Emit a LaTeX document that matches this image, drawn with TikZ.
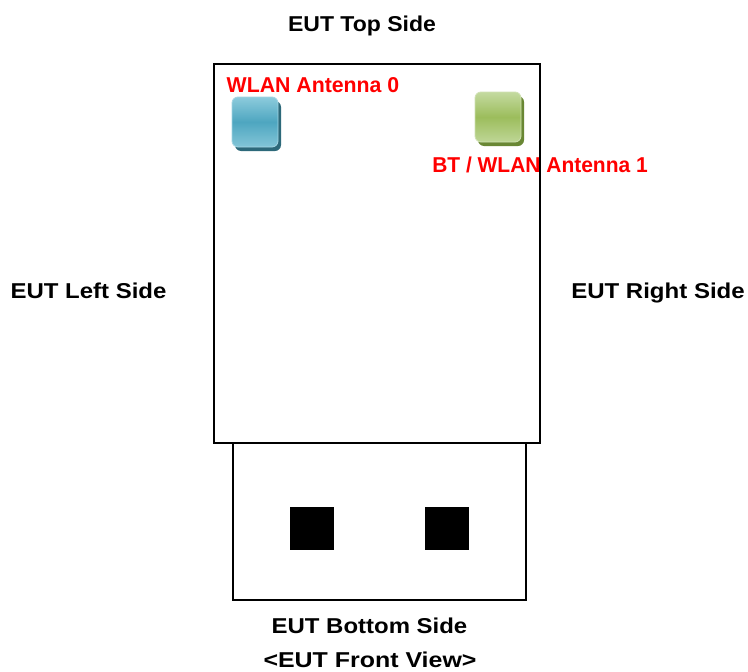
\documentclass[tikz,border=0pt]{standalone}
\usepackage{fontspec}
\setmainfont{Liberation Sans}
\usepackage{graphicx}
\usepackage{tikz}
\usetikzlibrary{positioning, shadows}
\definecolor{antred}{RGB}{255, 0, 0}
\definecolor{wlanlt}{RGB}{140, 203, 220}
\definecolor{wlanmd}{RGB}{78, 166, 192}
\definecolor{wlandk}{RGB}{45, 105, 122}
\definecolor{btlt}{RGB}{196, 218, 160}
\definecolor{btmd}{RGB}{156, 189, 92}
\definecolor{btdk}{RGB}{105, 135, 52}
% widen a label to the width it has in the drawing
\newcommand{\sidetext}[2]{\scalebox{#1}[1]{#2}}

\begin{document}
\begin{tikzpicture}[
        x=1pt, y=-1pt,
        side/.style = {font=\fontsize{21.5}{27}\selectfont\bfseries, anchor=base, inner sep=0pt},
        antlabel/.style = {side, text=antred},
        casing/.style = {draw, line width=1.4pt, fill=white},
        pin/.style = {fill=black, minimum width=44pt, minimum height=43pt, inner sep=0pt},
        antenna/.style = {rounded corners=6pt, minimum width=46pt, minimum height=50pt, inner sep=0pt, draw=#1lt!80!white, line width=0.8pt,
            drop shadow={shadow xshift=3pt, shadow yshift=-4pt, fill=#1dk, opacity=1, rounded corners=6pt},
            top color=#1lt, bottom color=#1lt!85!#1md, middle color=#1md},
    ]
        \useasboundingbox (0,0) rectangle (748,672);
        % housing and USB plug
        \draw[casing] (233,443) rectangle (526,600);
        \node[pin] (pinL) at (312,528.5) {};
        \node[pin] (pinR) at (447,528.5) {};
        \draw[casing] (214,64) rectangle (540,443);
        % antennas
        \node[antenna=wlan] (ant0) at (255,122) {};
        \node[antenna=bt] (ant1) at (498,117) {};
        \node[antlabel] (lab0) at (313,92) {\sidetext{0.99}{WLAN Antenna 0}};
        \node[antlabel] (lab1) at (540,172) {\sidetext{0.975}{BT / WLAN Antenna 1}};
        % sides
        \node[side] (top) at (362,31) {\sidetext{1.07}{EUT Top Side}};
        \node[side] (left) at (88.5,298) {\sidetext{1.115}{EUT Left Side}};
        \node[side] (right) at (658,298) {\sidetext{1.117}{EUT Right Side}};
        \node[side] (bottom) at (369.5,633) {\sidetext{1.114}{EUT Bottom Side}};
        \node[side] (view) at (370,667) {\sidetext{1.16}{<EUT Front View>}};
    \end{tikzpicture}
\end{document}
